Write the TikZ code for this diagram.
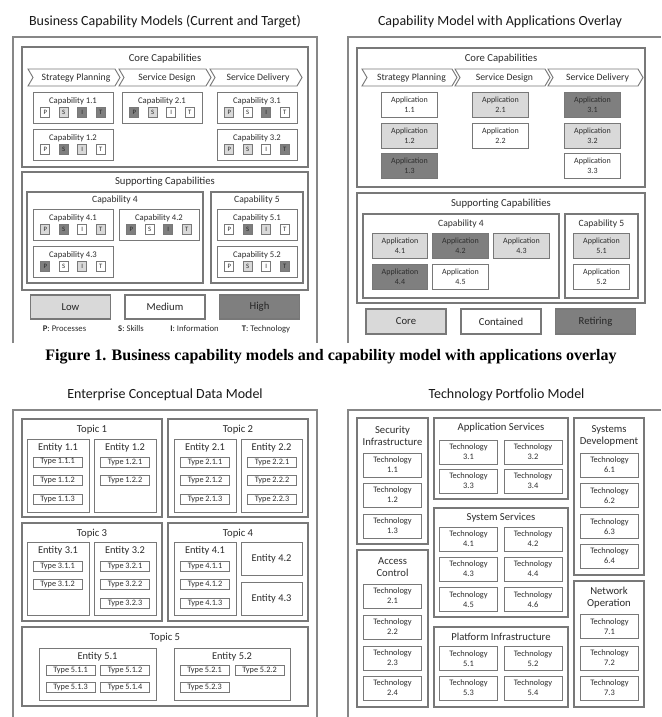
\documentclass[tikz,border=0pt]{standalone}
\usepackage{fontspec}
\setmainfont{Carlito}
\newfontfamily\capfont{Liberation Serif}
\usepackage{tikz}
\usetikzlibrary{positioning}
\definecolor{linegray}{RGB}{120,120,120}
\definecolor{framegray}{RGB}{135,135,135}
\definecolor{textgray}{RGB}{45,45,45}
\definecolor{lowfill}{RGB}{217,217,217}
\definecolor{midfill}{RGB}{255,255,255}
\definecolor{highfill}{RGB}{127,127,127}

\begin{document}
\begin{tikzpicture}[x=0.75pt, y=-0.75pt,
    frame/.style={draw=framegray, line width=0.9pt},
    grp/.style={draw=linegray, line width=0.9pt},
    ttl/.style={font=\fontsize{10.5}{12}\selectfont, text=black!90},
    capt/.style={font=\capfont\bfseries\fontsize{12}{14}\selectfont},
    grplbl/.style={font=\fontsize{8}{9}\selectfont, text=textgray, align=center},
    sublbl/.style={font=\fontsize{7.2}{8.6}\selectfont, text=textgray},
    chev/.style={draw=linegray, line width=0.7pt},
    chevlbl/.style={font=\fontsize{7.3}{8.8}\selectfont, text=textgray},
    capbox/.style={draw=linegray, line width=0.7pt, minimum width=60pt, minimum height=23.25pt, inner sep=0pt},
    caplbl/.style={font=\fontsize{6.5}{7.8}\selectfont, text=textgray},
    sq/.style={draw=linegray, line width=0.5pt, minimum width=6.75pt, minimum height=7.5pt, inner sep=0pt, font=\fontsize{5}{6}\selectfont, text=black!85},
    app/.style={draw=linegray, line width=0.7pt, minimum width=41.5pt, minimum height=18.75pt, inner sep=0pt, align=center, font=\fontsize{6}{7.5}\selectfont, text=textgray},
    legbox/.style={draw=linegray, line width=0.8pt, minimum width=60pt, minimum height=18pt, inner sep=0pt, font=\fontsize{8}{9.6}\selectfont, text=black!85},
    keylbl/.style={font=\fontsize{6.5}{7.8}\selectfont, text=textgray},
    ent/.style={draw=linegray, line width=0.7pt},
    entlbl/.style={font=\fontsize{7.8}{9}\selectfont, text=textgray},
    entbox/.style={draw=linegray, line width=0.7pt, minimum width=45.75pt, minimum height=24.75pt, inner sep=0pt, font=\fontsize{7.8}{9}\selectfont, text=textgray},
    ty/.style={draw=linegray, line width=0.6pt, minimum width=36.75pt, minimum height=7.5pt, inner sep=0pt, font=\fontsize{6.2}{7}\selectfont, text=textgray},
    tech/.style={draw=linegray, line width=0.7pt, minimum width=43.5pt, minimum height=18pt, inner sep=0pt, align=center, font=\fontsize{6.3}{7.5}\selectfont, text=textgray}
]
\useasboundingbox[fill=white] (0,0) rectangle (661,717);

% ---------- Business capability models ----------
\node[ttl] (bcm) at (165,22) {Business Capability Models (Current and Target)};
\draw[frame] (13,343) -- (13,37) -- (317,37) -- (317,343);
\draw[grp] (22,47) rectangle (308,167);
\node[grplbl] (core-l) at (165,59) {Core Capabilities};

\foreach \x/\w/\nm/\txt in {28/92/chl1/Strategy Planning, 119/92/chl2/Service Design, 210/92/chl3/Service Delivery,
    362/95/chr1/Strategy Planning, 455/95/chr2/Service Design, 548/95/chr3/Service Delivery} {
  \draw[chev] (\x,69) -- (\x+\w-5,69) -- (\x+\w,77.5) -- (\x+\w-5,86) -- (\x,86) -- (\x+5,77.5) -- cycle;
  \node[chevlbl] (\nm) at (\x+\w/2+2,77.5) {\txt};
}

\foreach \nm/\n/\x/\y/\colP/\colS/\colI/\colT in {
    c11/1.1/73/107.5/midfill/lowfill/highfill/highfill,
    c21/2.1/162/107.5/highfill/lowfill/midfill/midfill,
    c31/3.1/257/107.5/lowfill/midfill/highfill/midfill,
    c12/1.2/73/144.5/midfill/highfill/lowfill/midfill,
    c32/3.2/257/144.5/lowfill/lowfill/midfill/highfill,
    c41/4.1/73/224.5/lowfill/highfill/midfill/lowfill,
    c42/4.2/159/224.5/highfill/midfill/highfill/lowfill,
    c51/5.1/257/224.5/midfill/highfill/lowfill/midfill,
    c43/4.3/73/261.5/highfill/midfill/lowfill/midfill,
    c52/5.2/257/261.5/midfill/lowfill/midfill/highfill} {
  \node[capbox] (\nm) at (\x,\y) {};
  \node[caplbl] (\nm-l) at (\x,\y-6.5) {Capability \n};
  \node[sq, fill=\colP] (\nm-p) at (\x-27.75,\y+5) {P};
  \node[sq, fill=\colS] (\nm-s) at (\x-9.25,\y+5) {S};
  \node[sq, fill=\colI] (\nm-i) at (\x+9.25,\y+5) {I};
  \node[sq, fill=\colT] (\nm-t) at (\x+27.75,\y+5) {T};
}

\draw[grp] (22,172) rectangle (308,290);
\node[grplbl] (supp-l) at (165,182) {Supporting Capabilities};
\draw[grp] (27,192) rectangle (203,283);
\node[sublbl] (cap4-l) at (115,200) {Capability 4};
\draw[grp] (211,192) rectangle (303,283);
\node[sublbl] (cap5-l) at (257,200) {Capability 5};

\node[legbox, fill=lowfill] (low) at (70.5,307) {Low};
\node[legbox, fill=midfill] (medium) at (165,307) {Medium};
\node[legbox, fill=highfill] (high) at (259.5,307) {High};
\node[keylbl] (key-p) at (64.5,329) {\textbf{P}: Processes};
\node[keylbl] (key-s) at (131,329) {\textbf{S}: Skills};
\node[keylbl] (key-i) at (194.5,329) {\textbf{I}: Information};
\node[keylbl] (key-t) at (266,329) {\textbf{T}: Technology};

% ---------- Applications overlay ----------
\node[ttl] (cmao) at (500,22) {Capability Model with Applications Overlay};
\draw[frame] (348,343) -- (348,37) -- (661,37);
\draw[grp] (357,48) rectangle (645,187);
\node[grplbl] (core-r) at (501,59) {Core Capabilities};

\foreach \nm/\n/\x/\y/\col in {
    a11/1.1/409.5/104.5/midfill, a21/2.1/500.5/104.5/lowfill, a31/3.1/592.5/104.5/highfill,
    a12/1.2/409.5/135.5/lowfill, a22/2.2/500.5/135.5/midfill, a32/3.2/592.5/135.5/lowfill,
    a13/1.3/409.5/166/highfill, a33/3.3/592.5/166/midfill,
    a41/4.1/400/246/lowfill, a42/4.2/460.5/246/highfill, a43/4.3/521.5/246/lowfill,
    a44/4.4/400/277/highfill, a45/4.5/460.5/277/midfill,
    a51/5.1/601.5/246/lowfill, a52/5.2/601.5/277/midfill} {
  \node[app, fill=\col] (\nm) at (\x,\y) {Application\\\n};
}

\draw[grp] (357,193) rectangle (645,303);
\node[grplbl] (supp-r) at (501,204) {Supporting Capabilities};
\draw[grp] (363,214) rectangle (559,298);
\node[sublbl] (cap4-r) at (461,224) {Capability 4};
\draw[grp] (565,214) rectangle (638,298);
\node[sublbl] (cap5-r) at (601.5,224) {Capability 5};

\node[legbox, fill=lowfill, minimum height=18.75pt] (core) at (406,321.5) {Core};
\node[legbox, fill=midfill, minimum height=18.75pt] (contained) at (501,321.5) {Contained};
\node[legbox, fill=highfill, minimum height=18.75pt] (retiring) at (595.5,321.5) {Retiring};

\node[capt] (fig1) at (331,357) {Figure 1. Business capability models and capability model with applications overlay};

% ---------- Conceptual data model ----------
\node[ttl] (ecdm) at (165,395) {Enterprise Conceptual Data Model};
\draw[frame] (13,717) -- (13,410) -- (317,410) -- (317,717);

\foreach \nm/\n/\xa/\ya/\xb/\yb in {tp1/1/22/419/162/517, tp2/2/168/419/308/517,
    tp3/3/22/523/162/621, tp4/4/168/523/308/621, tp5/5/22/627/308/706} {
  \draw[grp] (\xa,\ya) rectangle (\xb,\yb);
  \node[grplbl] (\nm) at ({(\xa+\xb)/2},\ya+10.5) {Topic \n};
}

\foreach \nm/\n/\xa/\ya/\xb/\yb in {e11/1.1/27/439/89/512, e12/1.2/94/439/156/512,
    e21/2.1/174/439/236/512, e22/2.2/241/439/302/512,
    e31/3.1/27/542/89/615, e32/3.2/94/542/156/615, e41/4.1/174/542/236/615,
    e51/5.1/39/648/156/700, e52/5.2/174/648/290/700} {
  \draw[ent] (\xa,\ya) rectangle (\xb,\yb);
  \node[entlbl] (\nm) at ({(\xa+\xb)/2},\ya+9) {Entity \n};
}
\node[entbox] (e42) at (271.5,558.5) {Entity 4.2};
\node[entbox] (e43) at (271.5,598.5) {Entity 4.3};

\foreach \nm/\n/\x/\y in {
    ty111/1.1.1/57.5/462, ty112/1.1.2/57.5/480.5, ty113/1.1.3/57.5/499,
    ty121/1.2.1/125/462, ty122/1.2.2/125/480.5,
    ty211/2.1.1/205/462, ty212/2.1.2/205/480.5, ty213/2.1.3/205/499,
    ty221/2.2.1/272/462, ty222/2.2.2/272/480.5, ty223/2.2.3/272/499,
    ty311/3.1.1/57.5/566, ty312/3.1.2/57.5/584.5,
    ty321/3.2.1/125/566, ty322/3.2.2/125/584.5, ty323/3.2.3/125/603,
    ty411/4.1.1/205/566, ty412/4.1.2/205/584.5, ty413/4.1.3/205/603,
    ty511/5.1.1/70.5/670.5, ty512/5.1.2/125/670.5, ty513/5.1.3/70.5/687.5, ty514/5.1.4/125/687.5,
    ty521/5.2.1/204.5/670.5, ty522/5.2.2/259.5/670.5, ty523/5.2.3/204.5/687.5} {
  \node[ty] (\nm) at (\x,\y) {Type \n};
}

% ---------- Technology portfolio ----------
\node[ttl] (tpm) at (506.5,395) {Technology Portfolio Model};
\draw[frame] (348,717) -- (348,410) -- (661,410);

\draw[grp] (357,418) rectangle (428,544);
\node[grplbl] (sec) at (392.5,436) {Security\\Infrastructure};
\draw[grp] (357,550) rectangle (428,707);
\node[grplbl] (acc) at (392.5,567) {Access\\Control};
\draw[grp] (434,418) rectangle (568,499);
\node[grplbl] (appsrv) at (501,428) {Application Services};
\draw[grp] (434,508) rectangle (568,617);
\node[grplbl] (syssrv) at (501,518) {System Services};
\draw[grp] (434,627) rectangle (568,707);
\node[grplbl] (platf) at (501,637) {Platform Infrastructure};
\draw[grp] (574,418) rectangle (644,575);
\node[grplbl] (sysdev) at (609,436) {Systems\\Development};
\draw[grp] (574,581) rectangle (644,707);
\node[grplbl] (netop) at (609,598) {Network\\Operation};

\foreach \nm/\n/\x/\y in {
    tc11/1.1/392.5/465, tc12/1.2/392.5/495, tc13/1.3/392.5/526,
    tc21/2.1/392.5/596, tc22/2.2/392.5/627, tc23/2.3/392.5/658, tc24/2.4/392.5/688,
    tc31/3.1/468.5/452, tc32/3.2/533/452, tc33/3.3/468.5/481, tc34/3.4/533/481,
    tc41/4.1/468.5/539, tc42/4.2/533/539, tc43/4.3/468.5/569, tc44/4.4/533/569,
    tc45/4.5/468.5/599.5, tc46/4.6/533/599.5,
    tc51/5.1/468.5/658.5, tc52/5.2/533/658.5, tc53/5.3/468.5/688, tc54/5.4/533/688,
    tc61/6.1/609.5/465, tc62/6.2/609.5/495.5, tc63/6.3/609.5/526.5, tc64/6.4/609.5/556,
    tc71/7.1/609.5/626.5, tc72/7.2/609.5/658, tc73/7.3/609.5/688} {
  \node[tech] (\nm) at (\x,\y) {Technology\\\n};
}
\end{tikzpicture}
\end{document}
